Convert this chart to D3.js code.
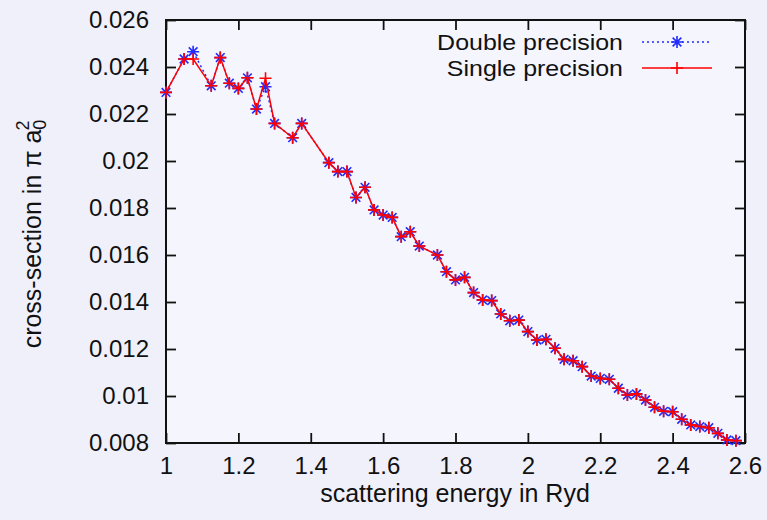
<!DOCTYPE html>
<html>
<head>
<meta charset="utf-8">
<script src="https://cdn.jsdelivr.net/npm/d3@7"></script>
<style>
  html, body { margin: 0; padding: 0; background: #f0f0fb; }
  svg text { font-family: "Liberation Sans", Arial, Helvetica, sans-serif; fill: #111; }
</style>
</head>
<body>
<svg id="chart" width="767" height="520"></svg>
<script>
// scattering energy (Ryd)
const energy = [1.0, 1.05, 1.075, 1.125, 1.15, 1.175, 1.2, 1.225, 1.25, 1.275,
  1.3, 1.35, 1.375, 1.45, 1.475, 1.5, 1.525, 1.55, 1.575, 1.6,
  1.625, 1.65, 1.675, 1.7, 1.75, 1.775, 1.8, 1.825, 1.85, 1.875,
  1.9, 1.925, 1.95, 1.975, 2.0, 2.025, 2.05, 2.075, 2.1, 2.125,
  2.15, 2.175, 2.2, 2.225, 2.25, 2.275, 2.3, 2.325, 2.35, 2.375,
  2.4, 2.425, 2.45, 2.475, 2.5, 2.525, 2.55, 2.575];

// cross-section in pi a0^2
const doublePrec = [0.02292, 0.02434, 0.02465, 0.0232, 0.0244, 0.02331, 0.02309, 0.02354, 0.02221, 0.02316,
  0.0216, 0.02099, 0.0216, 0.01993, 0.01955, 0.01955, 0.01845, 0.01888, 0.01792, 0.0177,
  0.0176, 0.01678, 0.01699, 0.01638, 0.016, 0.01529, 0.01494, 0.01505, 0.0144, 0.01409,
  0.01406, 0.01349, 0.0132, 0.01323, 0.01274, 0.01238, 0.01241, 0.01203, 0.01156, 0.0115,
  0.01125, 0.01085, 0.01075, 0.01071, 0.01033, 0.01004, 0.01009, 0.00983, 0.00952, 0.00935,
  0.00933, 0.00901, 0.00877, 0.0087, 0.00865, 0.00841, 0.00813, 0.0081];

const singlePrec = [0.02292, 0.02434, 0.02434, 0.0232, 0.0244, 0.02331, 0.02309, 0.02354, 0.02221, 0.02352,
  0.0216, 0.02099, 0.0216, 0.01993, 0.01955, 0.01955, 0.01845, 0.01888, 0.01792, 0.0177,
  0.0176, 0.01678, 0.01699, 0.01638, 0.016, 0.01529, 0.01494, 0.01505, 0.0144, 0.01409,
  0.01406, 0.01349, 0.0132, 0.01323, 0.01274, 0.01238, 0.01241, 0.01203, 0.01156, 0.0115,
  0.01125, 0.01085, 0.01075, 0.01071, 0.01033, 0.01004, 0.01009, 0.00983, 0.00952, 0.00935,
  0.00933, 0.00901, 0.00877, 0.0087, 0.00865, 0.00841, 0.00813, 0.0081];

const xTicks = [1, 1.2, 1.4, 1.6, 1.8, 2, 2.2, 2.4, 2.6];
const yTicks = [0.008, 0.01, 0.012, 0.014, 0.016, 0.018, 0.02, 0.022, 0.024, 0.026];

const BLUE = "#1f2bff";
const RED = "#ff0000";
const FS = 24;   // tick labels
const FT = 25;   // axis titles
const FL = 22.5; // legend (stretched a bit sideways)

const svg = d3.select("#chart");
const pl = 166, pr = 745, pt = 20, pb = 443;

const x = d3.scaleLinear().domain([1, 2.6]).range([pl, pr]);
const y = d3.scaleLinear().domain([0.008, 0.026]).range([pb, pt]);

svg.append("rect")
  .attr("x", pl).attr("y", pt)
  .attr("width", pr - pl).attr("height", pb - pt)
  .attr("fill", "#f5f5fe");

// axes, gnuplot style: ticks inward on all four sides
const styleAxis = (g) => {
  g.select(".domain").remove();
  g.selectAll(".tick line").attr("stroke", "#111").attr("stroke-width", 1.8);
  g.selectAll(".tick text").style("font-size", FS + "px").attr("fill", "#111");
};

svg.append("g").attr("transform", `translate(0,${pb})`)
  .call(d3.axisBottom(x).tickValues(xTicks).tickSizeInner(-10).tickSizeOuter(0).tickPadding(14)
    .tickFormat((d) => String(+d.toFixed(1))))
  .call(styleAxis);

svg.append("g").attr("transform", `translate(0,${pt})`)
  .call(d3.axisTop(x).tickValues(xTicks).tickSizeInner(-10).tickSizeOuter(0).tickFormat(""))
  .call(styleAxis);

svg.append("g").attr("transform", `translate(${pl},0)`)
  .call(d3.axisLeft(y).tickValues(yTicks).tickSizeInner(-10).tickSizeOuter(0).tickPadding(17)
    .tickFormat((d) => String(+d.toFixed(3))))
  .call(styleAxis);

svg.append("g").attr("transform", `translate(${pr},0)`)
  .call(d3.axisRight(y).tickValues(yTicks).tickSizeInner(-10).tickSizeOuter(0).tickFormat(""))
  .call(styleAxis);

svg.append("rect")
  .attr("x", pl).attr("y", pt)
  .attr("width", pr - pl).attr("height", pb - pt)
  .attr("fill", "none").attr("stroke", "#111").attr("stroke-width", 2);

// series
const dData = energy.map((e, i) => [e, doublePrec[i]]);
const sData = energy.map((e, i) => [e, singlePrec[i]]);
const line = d3.line().x((d) => x(d[0])).y((d) => y(d[1]));

const starPath = (r) => {
  const k = r * 0.72;
  return `M${-r},0H${r}M0,${-r}V${r}M${-k},${-k}L${k},${k}M${-k},${k}L${k},${-k}`;
};
const plusPath = (r) => `M${-r},0H${r}M0,${-r}V${r}`;

svg.append("path").datum(dData)
  .attr("d", line).attr("fill", "none")
  .attr("stroke", BLUE).attr("stroke-width", 1.5).attr("stroke-dasharray", "2,3");

svg.append("g").selectAll("path").data(dData).enter().append("path")
  .attr("transform", (d) => `translate(${x(d[0])},${y(d[1])})`)
  .attr("d", starPath(6)).attr("stroke", BLUE).attr("stroke-width", 1.6).attr("fill", "none");

svg.append("path").datum(sData)
  .attr("d", line).attr("fill", "none")
  .attr("stroke", RED).attr("stroke-width", 1.5);

svg.append("g").selectAll("path").data(sData).enter().append("path")
  .attr("transform", (d) => `translate(${x(d[0])},${y(d[1])})`)
  .attr("d", plusPath(6)).attr("stroke", RED).attr("stroke-width", 1.6).attr("fill", "none");

// legend
const legend = [
  { name: "Double precision", color: BLUE, dash: "2,3", marker: starPath(6), y: 42 },
  { name: "Single precision", color: RED, dash: null, marker: plusPath(6), y: 68 },
];
const lg = svg.append("g");
legend.forEach((l) => {
  lg.append("g").attr("transform", `translate(623,${l.y}) scale(1.11,1)`)
    .append("text").attr("dy", "0.35em")
    .attr("text-anchor", "end").style("font-size", FL + "px").text(l.name);
  lg.append("line").attr("x1", 642).attr("x2", 712).attr("y1", l.y).attr("y2", l.y)
    .attr("stroke", l.color).attr("stroke-width", 1.5).attr("stroke-dasharray", l.dash);
  lg.append("path").attr("transform", `translate(677,${l.y})`).attr("d", l.marker)
    .attr("stroke", l.color).attr("stroke-width", 1.6).attr("fill", "none");
});

// axis titles
svg.append("text").attr("x", 455).attr("y", 493).attr("dy", "0.35em")
  .attr("text-anchor", "middle").style("font-size", FT + "px").text("scattering energy in Ryd");

const yl = svg.append("text")
  .attr("transform", "translate(32,234) rotate(-90)")
  .attr("text-anchor", "middle").attr("dy", "0.35em").style("font-size", FT + "px");
yl.append("tspan").text("cross-section in π a");
yl.append("tspan").attr("dy", "0.3em").style("font-size", "18px").text("0");
yl.append("tspan").attr("dx", "-0.6em").attr("dy", "-0.95em").style("font-size", "18px").text("2");
</script>
</body>
</html>
